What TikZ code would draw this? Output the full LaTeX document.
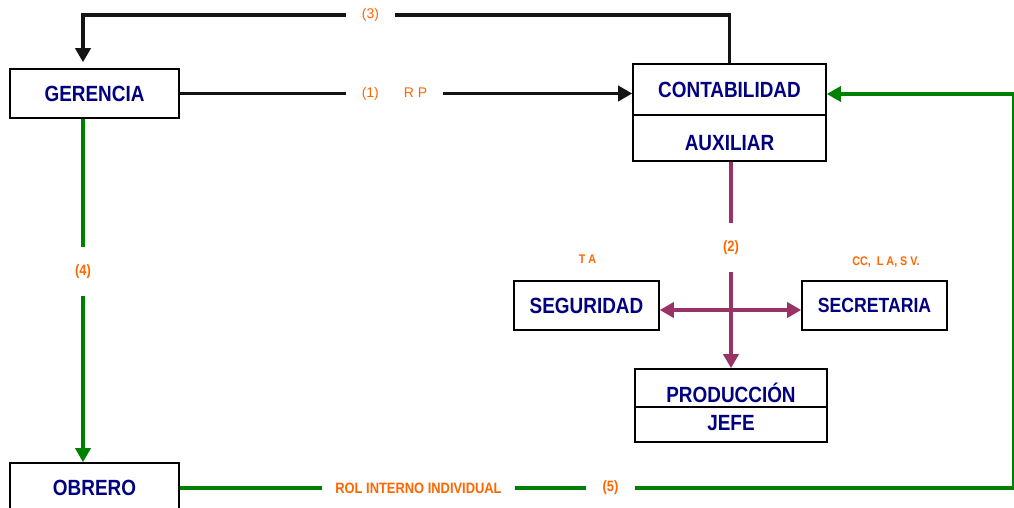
\documentclass[tikz,border=0pt]{standalone}
\usepackage{fontspec}
\setmainfont{Liberation Sans}
\newfontfamily\narrowsans[FakeStretch=0.86]{Liberation Sans}
\usetikzlibrary{arrows.meta}
\definecolor{navy}{RGB}{0,0,128}
\definecolor{labelorange}{RGB}{255,102,0}
\definecolor{flowgreen}{RGB}{0,128,0}
\definecolor{flowpurple}{RGB}{153,51,102}
\definecolor{flowblack}{RGB}{20,20,20}

\begin{document}
\begin{tikzpicture}[x=1pt,y=-1pt,
  box/.style={draw=black, line width=1.6pt, fill=white, inner sep=0pt, text=navy,
    font=\narrowsans\bfseries\fontsize{22}{24}\selectfont,
    text height=15.8pt, text depth=0pt},
  tip/.style={-{Triangle[length=14pt,width=15pt]}},
  blackflow/.style={line width=3.5pt, draw=flowblack},
  greenflow/.style={line width=3.2pt, draw=flowgreen, color=flowgreen},
  purpleflow/.style={line width=3.5pt, draw=flowpurple, color=flowpurple},
  gaplabel/.style={fill=white, inner sep=0pt, text=labelorange,
    font=\fontsize{14}{16}\selectfont},
  gapbold/.style={gaplabel, font=\narrowsans\bfseries\fontsize{15}{17}\selectfont},
  freelabel/.style={inner sep=0pt, text=labelorange,
    font=\narrowsans\bfseries\fontsize{12.5}{14}\selectfont}
]
\useasboundingbox (0,0) rectangle (1014,508);
\clip (0,0) rectangle (1014,508);

% boxes
\node[box, minimum width=169pt, minimum height=49pt] (ger) at (94.5,93.5) {GERENCIA};
\node[box, minimum width=193pt, minimum height=51pt] (cont) at (729.5,89.5) {CONTABILIDAD};
\node[box, minimum width=193pt, minimum height=46pt, text height=25.8pt] (aux) at (729.5,138) {AUXILIAR};
\node[box, minimum width=145pt, minimum height=49pt] (seg) at (586.5,305.5) {SEGURIDAD};
\node[box, minimum width=145pt, minimum height=49pt,
  font=\narrowsans\bfseries\fontsize{20.5}{22}\selectfont, text height=14.7pt] (sec) at (874.5,305.5) {SECRETARIA};
\node[box, minimum width=192pt, minimum height=38pt, text height=29.8pt] (prod) at (731,388) {PRODUCCIÓN};
\node[box, minimum width=192pt, minimum height=35pt, text depth=4pt] (jefe) at (731,424.5) {JEFE};
\node[box, minimum width=169pt, minimum height=50pt] (obr) at (94.5,488) {OBRERO};

% routing points
\coordinate (c3a) at (729.5,15);
\coordinate (c3b) at (83,15);
\coordinate (c5) at (1014,488);
\coordinate (c5t) at (1014,94);
\coordinate (hy) at (0,310);

% (1) GERENCIA -> CONTABILIDAD
\draw[blackflow, tip] (ger.east) -- (ger.east -| cont.west);
% (3) CONTABILIDAD -> GERENCIA
\draw[blackflow, tip, shorten >=6pt] (cont.north) -- (c3a) -- (c3b) -- (c3b |- ger.north);
% (4) GERENCIA -> OBRERO
\draw[greenflow, tip] (c3b |- ger.south) -- (c3b |- obr.north);
% (5) OBRERO -> CONTABILIDAD
\draw[greenflow, tip] (obr.east) -- (c5) -- (c5t) -- (c5t -| cont.east);
% (2) AUXILIAR -> PRODUCCION, SEGURIDAD <-> SECRETARIA
\draw[purpleflow, tip] (prod.north |- aux.south) -- (prod.north);
\draw[purpleflow, {Triangle[length=14pt,width=15pt]}-{Triangle[length=14pt,width=15pt]}]
  (seg.east |- hy) -- (sec.west |- hy);

% connector labels
\node[gaplabel, minimum width=49pt, minimum height=14pt] (l3) at (370.5,15) {(3)};
\node[gaplabel, minimum width=97pt, minimum height=14pt] (l1) at (394.5,94) {(1)\hspace{25pt}R P};
\node[gapbold, minimum width=20pt, minimum height=49pt] (l4) at (83,271.5) {(4)};
\node[gapbold, minimum width=20pt, minimum height=49pt] (l2) at (731,247.5) {(2)};
\node[gapbold, minimum width=193pt, minimum height=14pt] (lrol) at (418.5,488) {ROL INTERNO INDIVIDUAL};
\node[gapbold, minimum width=49pt, minimum height=14pt] (l5) at (610.5,488) {(5)};

% side notes
\begin{scope}
  \clip (540,240) rectangle (640,262.5);
  \node[freelabel] (lta) at (587.5,259.5) {T A};
\end{scope}
\node[freelabel] (lcc) at (886,262) {CC,~~L A, S V.};
\end{tikzpicture}
\end{document}
